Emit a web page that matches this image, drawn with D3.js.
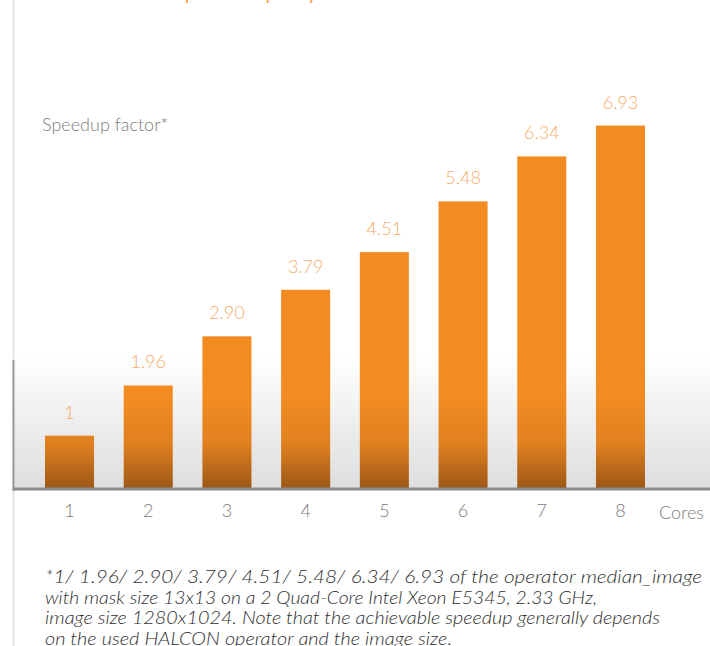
<html>
<head>
	<title>Speedup factor</title>
	<script src="https://d3js.org/d3.v7.min.js" charset="utf-8"></script>
    <style type="text/css">
        body { margin: 0; background: #fff; }
        svg { display: block; font-family: Lato, "Open Sans", sans-serif; font-weight: 300; }
    </style>
</head>
<body>
	<div id="chart"></div>
	<script>
		// data
		var cores = ['1', '2', '3', '4', '5', '6', '7', '8'];
		var speedup = [1, 1.96, 2.90, 3.79, 4.51, 5.48, 6.34, 6.93];
		var valueLabels = ['1', '1.96', '2.90', '3.79', '4.51', '5.48', '6.34', '6.93'];
		var footnote = [
			'*1/ 1.96/ 2.90/ 3.79/ 4.51/ 5.48/ 6.34/ 6.93 of the operator median_image',
			'with mask size 13x13 on a 2 Quad-Core Intel Xeon E5345, 2.33 GHz,',
			'image size 1280x1024. Note that the achievable speedup generally depends',
			'on the used HALCON operator and the image size.'
		];
		var footWidths = [657, 552, 615, 407];

		var W = 710, H = 646;
		var baseY = 488;

		var svg = d3.select('#chart').append('svg')
			.attr('width', W)
			.attr('height', H);

		var defs = svg.append('defs');
		var bg = defs.append('linearGradient').attr('id', 'bg')
			.attr('x1', 0).attr('y1', 0).attr('x2', 0).attr('y2', 1);
		bg.append('stop').attr('offset', '0%').attr('stop-color', '#ffffff');
		bg.append('stop').attr('offset', '100%').attr('stop-color', '#dedede');

		var barGrad = defs.append('linearGradient').attr('id', 'barGrad')
			.attr('gradientUnits', 'userSpaceOnUse')
			.attr('x1', 0).attr('y1', 400).attr('x2', 0).attr('y2', baseY);
		barGrad.append('stop').attr('offset', '0%').attr('stop-color', '#f28c22');
		barGrad.append('stop').attr('offset', '50%').attr('stop-color', '#e0801f');
		barGrad.append('stop').attr('offset', '100%').attr('stop-color', '#9c5816');

		// title, cut off at the top of the picture
		svg.append('text')
			.attr('x', 168).attr('y', -2)
			.style('fill', '#f28c22')
			.style('font-size', '30px')
			.text('Speedup by Multi-Core');

		// page edge line
		svg.append('line')
			.attr('x1', 13.5).attr('x2', 13.5).attr('y1', 0).attr('y2', H)
			.style('stroke', '#e4e4e4').style('stroke-width', 2);

		// shaded floor
		svg.append('rect')
			.attr('x', 14).attr('y', 355)
			.attr('width', W - 14).attr('height', baseY - 355)
			.style('fill', 'url(#bg)');

		var xScale = d3.scaleBand()
			.domain(cores)
			.range([45, 645])
			.paddingInner(0.377)
			.paddingOuter(0);

		var yScale = d3.scaleLinear()
			.domain([0, 7])
			.range([baseY, baseY - 7 * 52.3]);

		svg.append('g')
			.selectAll('rect')
			.data(speedup)
			.enter().append('rect')
				.attr('x', function(d, i){ return xScale(cores[i]); })
				.attr('y', function(d){ return yScale(d); })
				.attr('width', xScale.bandwidth())
				.attr('height', function(d){ return baseY - yScale(d); })
				.style('fill', 'url(#barGrad)');

		svg.append('g')
			.selectAll('text')
			.data(speedup)
			.enter().append('text')
				.attr('x', function(d, i){ return xScale(cores[i]) + xScale.bandwidth() / 2; })
				.attr('y', function(d){ return yScale(d) - 17; })
				.attr('text-anchor', 'middle')
				.style('fill', '#f6ad6c')
				.style('font-size', '18px')
				.text(function(d, i){ return valueLabels[i]; });

		// vertical axis stub
		svg.append('line')
			.attr('x1', 13.5).attr('x2', 13.5).attr('y1', 360).attr('y2', baseY + 3)
			.style('stroke', '#9a9a9a').style('stroke-width', 2);

		// horizontal axis
		var hAxis = d3.axisBottom(xScale).tickSize(0).tickPadding(16);
		var hGuide = svg.append('g')
			.attr('transform', 'translate(0,' + baseY + ')')
			.call(hAxis);
		hGuide.select('.domain').remove();
		hGuide.selectAll('text')
			.style('fill', '#7c7c7c')
			.style('font-size', '18px')
			.style('font-weight', 300)
			.style('font-family', 'Lato, sans-serif');
		svg.append('line')
			.attr('x1', 13).attr('x2', W).attr('y1', baseY + 1).attr('y2', baseY + 1)
			.style('stroke', '#8c8c8c').style('stroke-width', 3);

		svg.append('text')
			.attr('x', 659).attr('y', 519)
			.style('fill', '#7c7c7c')
			.style('font-size', '18px')
			.text('Cores');

		svg.append('text')
			.attr('x', 42).attr('y', 131)
			.style('fill', '#7c7c7c')
			.style('font-size', '18px')
			.text('Speedup factor*');

		// footnote
		svg.append('g')
			.selectAll('text')
			.data(footnote)
			.enter().append('text')
				.attr('x', 45)
				.attr('y', function(d, i){ return 583 + i * 20.5; })
				.attr('textLength', function(d, i){ return footWidths[i]; })
				.attr('lengthAdjust', 'spacingAndGlyphs')
				.style('fill', '#2e2e2e')
				.style('font-size', '17.5px')
				.style('font-style', 'italic')
				.text(function(d){ return d; });
	</script>
</body>
</html>
